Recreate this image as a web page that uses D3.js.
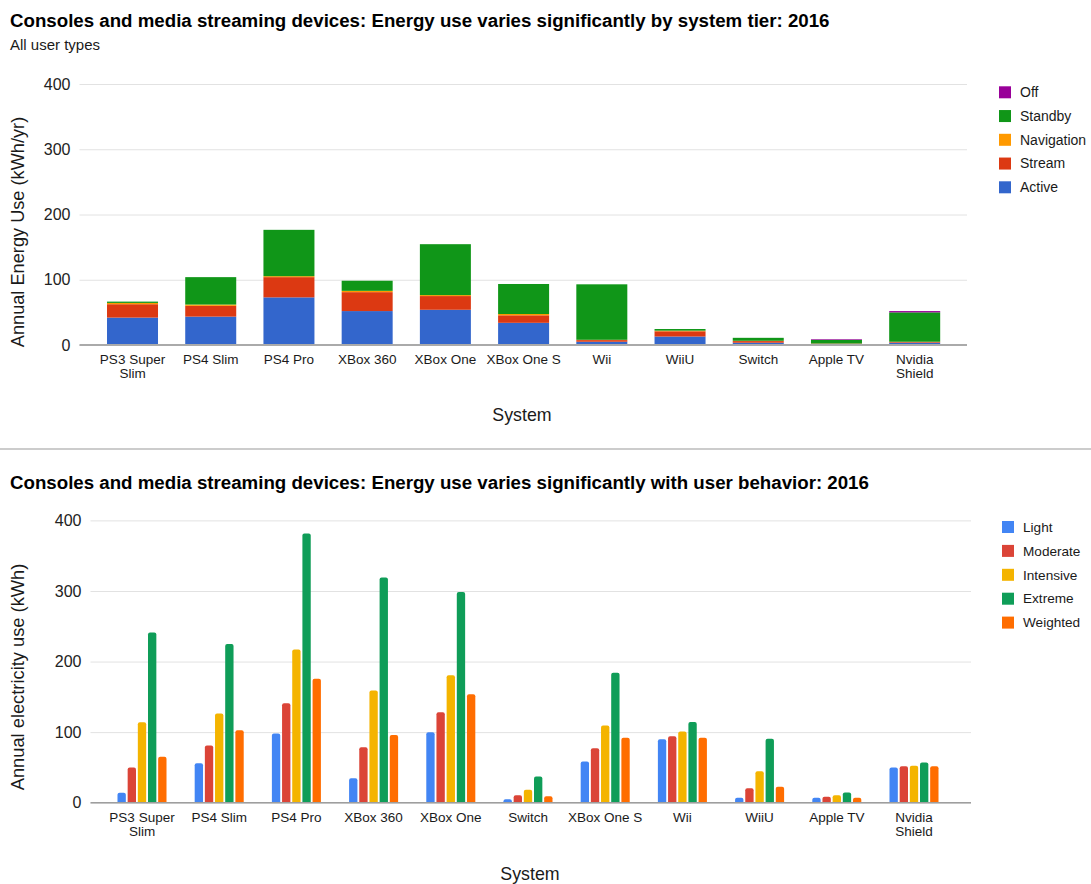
<!DOCTYPE html>
<html>
<head>
<meta charset="utf-8">
<script src="https://cdn.jsdelivr.net/npm/d3@7"></script>
<style>
  html, body { margin: 0; padding: 0; background: #fff; }
  svg { display: block; font-family: "Liberation Sans", Arial, Helvetica, sans-serif; }
</style>
</head>
<body>
<svg id="chart" width="1091" height="884"></svg>
<script>
// ---------- DATA: chart 1 (stacked, by system tier) ----------
const systems1 = ["PS3 Super Slim", "PS4 Slim", "PS4 Pro", "XBox 360", "XBox One", "XBox One S", "Wii", "WiiU", "Switch", "Apple TV", "Nvidia Shield"];
const tickLabels1 = ["PS3 Super\nSlim", "PS4 Slim", "PS4 Pro", "XBox 360", "XBox One", "XBox One S", "Wii", "WiiU", "Switch", "Apple TV", "Nvidia\nShield"];
const activeUse     = [42, 43.5, 73, 52, 54, 34, 5, 13, 3.5, 1.5, 3.5];
const streamUse     = [20.5, 16.5, 31, 29, 21, 11.5, 2.5, 8, 2.5, 0.5, 1];
const navigationUse = [2, 2, 1.5, 2, 1.5, 2, 0.5, 1, 0.5, 0.3, 0.5];
const standbyUse    = [2, 42, 71, 15.5, 78, 46, 85, 2.5, 4.5, 5.5, 45];
const offUse        = [0, 0, 0, 0, 0, 0, 0, 0, 0, 1, 2];
const modes1 = ["Active", "Stream", "Navigation", "Standby", "Off"];
const legend1 = ["Off", "Standby", "Navigation", "Stream", "Active"];
const yTicks1 = [0, 100, 200, 300, 400];

// ---------- DATA: chart 2 (grouped, by user behavior) ----------
const systems2 = ["PS3 Super Slim", "PS4 Slim", "PS4 Pro", "XBox 360", "XBox One", "Switch", "XBox One S", "Wii", "WiiU", "Apple TV", "Nvidia Shield"];
const tickLabels2 = ["PS3 Super\nSlim", "PS4 Slim", "PS4 Pro", "XBox 360", "XBox One", "Switch", "XBox One S", "Wii", "WiiU", "Apple TV", "Nvidia\nShield"];
const lightUse     = [14, 56, 98, 34.5, 100, 5, 58.5, 90, 7, 7, 50];
const moderateUse  = [50, 81, 141, 78.5, 128, 10.5, 77, 94, 20.5, 8.5, 51.5];
const intensiveUse = [114, 126.5, 217, 159, 180.5, 18.5, 109.5, 101, 44.5, 10.5, 52.5];
const extremeUse   = [241, 225, 381.5, 319, 298.5, 37, 184, 114.5, 90.5, 14.5, 57];
const weightedUse  = [65, 102.5, 175.5, 96, 153.5, 9, 92, 92, 22.5, 7, 51.5];
const users2 = ["Light", "Moderate", "Intensive", "Extreme", "Weighted"];
const yTicks2 = [0, 100, 200, 300, 400];

// ---------- build tables ----------
const series1 = {Active: activeUse, Stream: streamUse, Navigation: navigationUse, Standby: standbyUse, Off: offUse};
const table1 = systems1.map((s, i) => {
  const row = {system: s};
  modes1.forEach(m => row[m] = series1[m][i]);
  return row;
});
const series2 = {Light: lightUse, Moderate: moderateUse, Intensive: intensiveUse, Extreme: extremeUse, Weighted: weightedUse};
const table2 = systems2.map((s, i) => ({system: s, values: users2.map(u => ({key: u, value: series2[u][i]}))}));

const colors1 = d3.scaleOrdinal().domain(["Active", "Stream", "Navigation", "Standby", "Off"])
  .range(["#3366cc", "#dc3912", "#ff9900", "#109618", "#990099"]);
const colors2 = d3.scaleOrdinal().domain(users2)
  .range(["#4285f4", "#db4437", "#f4b400", "#0f9d58", "#ff6d00"]);

const svg = d3.select("#chart");
const textColor = "#1a1a1a";

function styleYAxis(g) {
  g.select(".domain").remove();
  g.selectAll(".tick line").attr("stroke", "#e2e2e2").attr("stroke-width", 1);
  g.selectAll(".tick text").attr("fill", "#222").style("font-size", "16px");
}
function xLabels(g, labels, firstOffset, lineGap) {
  g.select(".domain").remove();
  g.selectAll(".tick line").remove();
  g.selectAll(".tick text").each(function(d, i) {
    const t = d3.select(this);
    t.text(null).attr("y", firstOffset).attr("dy", null)
      .attr("fill", textColor).style("font-size", "13.5px");
    labels[i].split("\n").forEach((ln, k) => {
      t.append("tspan").attr("x", 0).attr("y", firstOffset + k * lineGap).text(ln);
    });
  });
}

// =================== CHART 1 ===================
{
  const gridL = 79.5, gridR = 967;
  const y = d3.scaleLinear().domain([0, 400]).range([345, 84]);
  const x = d3.scaleBand().domain(systems1).range([93.4, 953.8]).paddingInner(0.348).paddingOuter(0.174);

  svg.append("text").attr("x", 10).attr("y", 27).attr("fill", "#000")
    .style("font-size", "18.7px").style("font-weight", "bold")
    .text("Consoles and media streaming devices: Energy use varies significantly by system tier: 2016");
  svg.append("text").attr("x", 10).attr("y", 50).attr("fill", textColor)
    .style("font-size", "15px").text("All user types");

  svg.append("g").attr("transform", `translate(${gridL},0)`)
    .call(d3.axisLeft(y).tickValues(yTicks1).tickSize(-(gridR - gridL)).tickPadding(9))
    .call(styleYAxis);

  const stacked = d3.stack().keys(modes1)(table1);
  svg.append("g").selectAll("g").data(stacked).join("g")
    .attr("fill", d => colors1(d.key))
    .selectAll("rect").data(d => d).join("rect")
    .attr("x", d => x(d.data.system))
    .attr("width", x.bandwidth())
    .attr("y", d => y(d[1]))
    .attr("height", d => Math.max(0, y(d[0]) - y(d[1])));

  svg.append("line").attr("x1", gridL).attr("x2", gridR).attr("y1", y(0)).attr("y2", y(0))
    .attr("stroke", "#aaa").attr("stroke-width", 2);

  svg.append("g").attr("transform", `translate(0,${y(0)})`)
    .call(d3.axisBottom(x).tickSize(0))
    .call(g => xLabels(g, tickLabels1, 19, 14));

  svg.append("text").attr("transform", "translate(24,232) rotate(-90)")
    .attr("text-anchor", "middle").attr("fill", textColor).style("font-size", "18.2px")
    .text("Annual Energy Use (kWh/yr)");
  svg.append("text").attr("x", 522).attr("y", 421).attr("text-anchor", "middle")
    .attr("fill", textColor).style("font-size", "17.8px").text("System");

  const lg = svg.append("g").selectAll("g").data(legend1).join("g")
    .attr("transform", (d, i) => `translate(999,${92.3 + i * 23.75})`);
  lg.append("rect").attr("x", 0).attr("y", -6).attr("width", 12).attr("height", 12).attr("fill", d => colors1(d));
  lg.append("text").attr("x", 21).attr("y", 0).attr("dy", "0.35em").attr("fill", textColor)
    .style("font-size", "14px").text(d => d);
}

// separator
svg.append("line").attr("x1", 0).attr("x2", 1091).attr("y1", 449).attr("y2", 449)
  .attr("stroke", "#9a9a9a").attr("stroke-width", 1.2);

// =================== CHART 2 ===================
{
  const gridL = 90.5, gridR = 971;
  const y = d3.scaleLinear().domain([0, 400]).range([802.7, 520.4]);
  const x = d3.scaleBand().domain(systems2).range([103.4, 952.6]).paddingInner(0.365).paddingOuter(0.1825);
  const xi = d3.scaleBand().domain(users2).range([0, x.bandwidth()]).paddingInner(0.18);

  svg.append("text").attr("x", 10).attr("y", 489).attr("fill", "#000")
    .style("font-size", "18.7px").style("font-weight", "bold")
    .text("Consoles and media streaming devices: Energy use varies significantly with user behavior: 2016");

  svg.append("g").attr("transform", `translate(${gridL},0)`)
    .call(d3.axisLeft(y).tickValues(yTicks2).tickSize(-(gridR - gridL)).tickPadding(9))
    .call(styleYAxis);

  const r = 2;
  function topRounded(x0, y0, w, h) {
    const rr = Math.min(r, h, w / 2);
    return `M${x0},${y0 + h}V${y0 + rr}Q${x0},${y0} ${x0 + rr},${y0}H${x0 + w - rr}Q${x0 + w},${y0} ${x0 + w},${y0 + rr}V${y0 + h}Z`;
  }

  svg.append("g").selectAll("g").data(table2).join("g")
    .attr("transform", d => `translate(${x(d.system)},0)`)
    .selectAll("path").data(d => d.values).join("path")
    .attr("fill", d => colors2(d.key))
    .attr("d", d => topRounded(xi(d.key), y(d.value), xi.bandwidth(), y(0) - y(d.value)));

  svg.append("line").attr("x1", gridL).attr("x2", gridR).attr("y1", y(0)).attr("y2", y(0))
    .attr("stroke", "#9e9e9e").attr("stroke-width", 1.5);

  svg.append("g").attr("transform", `translate(0,${y(0)})`)
    .call(d3.axisBottom(x).tickSize(0))
    .call(g => xLabels(g, tickLabels2, 19, 14));

  svg.append("text").attr("transform", "translate(24,677) rotate(-90)")
    .attr("text-anchor", "middle").attr("fill", textColor).style("font-size", "18.3px")
    .text("Annual electricity use (kWh)");
  svg.append("text").attr("x", 530).attr("y", 880).attr("text-anchor", "middle")
    .attr("fill", textColor).style("font-size", "17.8px").text("System");

  const lg = svg.append("g").selectAll("g").data(users2).join("g")
    .attr("transform", (d, i) => `translate(1002,${527 + i * 23.9})`);
  lg.append("rect").attr("x", 0).attr("y", -6).attr("width", 12).attr("height", 12).attr("fill", d => colors2(d));
  lg.append("text").attr("x", 21).attr("y", 0).attr("dy", "0.35em").attr("fill", textColor)
    .style("font-size", "13.6px").text(d => d);
}
</script>
</body>
</html>
